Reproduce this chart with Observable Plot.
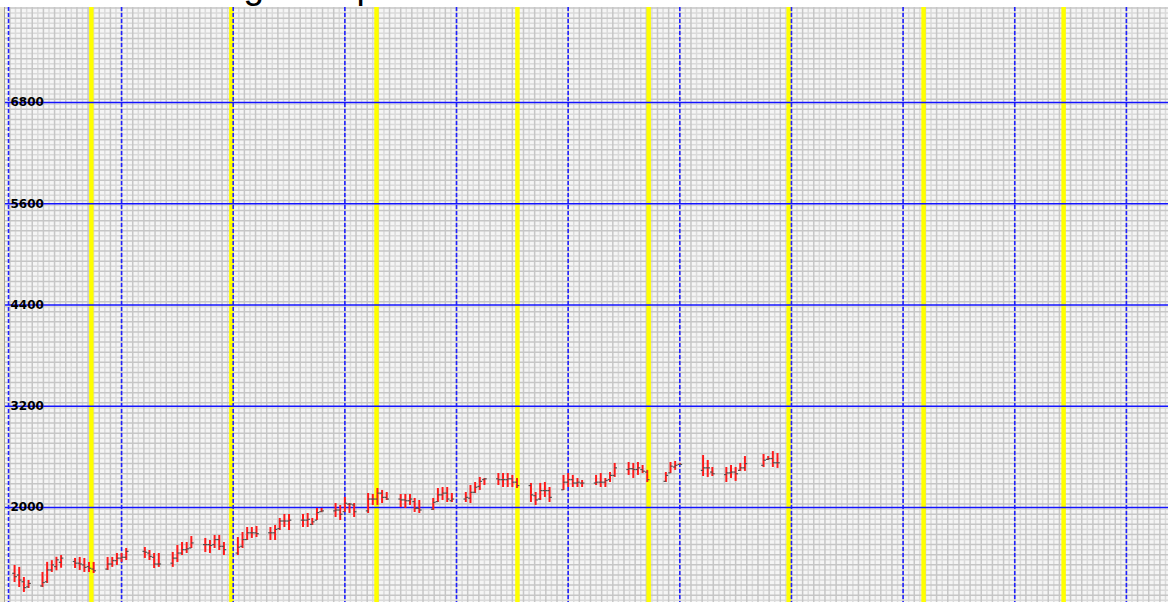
<!DOCTYPE html>
<html>
<head>
<meta charset="utf-8">
<script src="https://cdn.jsdelivr.net/npm/d3@7"></script>
<script src="https://cdn.jsdelivr.net/npm/@observablehq/plot@0.6"></script>
<style>
  html, body { margin: 0; padding: 0; background: #ffffff; }
  #title-strip { position: relative; height: 7px; width: 1168px; overflow: hidden; background: #ffffff; }
  #title { position: absolute; left: 81px; top: -33px; font-family: "Liberation Sans", Arial, sans-serif; font-size: 37px; line-height: 37px; color: #000; white-space: nowrap; }
  #frame { display: flex; width: 1168px; height: 595px; }
  #border1 { width: 4px; background: #ece9d8; }
  #border2 { width: 1px; background: #a8a496; }
  #chart svg { display: block; }
</style>
</head>
<body>
<div id="title-strip"><div id="title">Price Range Graph</div></div>
<div id="frame"><div id="border1"></div><div id="border2"></div><div id="chart"></div></div>
<script>
// ---- data (day index = calendar days from the first Monday) ----
const barDays = [1,2,3,4, 7,8,9,10,11, 14,15,16,17,18, 21,22,23,24,25, 29,30,31,32,
  35,36,37,38,39, 42,43,44,45,46, 49,50,51,52,53, 56,57,58,59,60, 63,64,65,66,67,
  70,71,72,73,74, 77,78,79,80,81, 84,85,86,87,88, 91,92,93,94,95, 98,99,100,101,102,
  105,106,107,108,109, 112,113,114,115,116, 119,120,121,122,123, 126,127,128,129,130,
  133,134,135,136,137, 141,142,143,144, 149,150,151, 154,155,156,157,158, 162,163,164,165];
const openVals = [1220,1200,1120,1060, 1070,1120,1260,1300,1350, 1360,1340,1320,1300,1270, 1270,1330,1370,1400,1410, 1480,1460,1410,1330,
  1340,1400,1460,1500,1520, 1560,1560,1560,1620,1540, 1460,1540,1620,1700,1700, 1700,1700,1750,1840,1840, 1850,1850,1800,1850,1950,
  1960,1970,1950,2040,2030, 1960,2100,2100,2170,2120, 2100,2090,2080,2070,1990, 1980,2070,2150,2170,2080, 2100,2110,2180,2250,2330,
  2340,2330,2330,2340,2300, 2260,2140,2100,2200,2200, 2210,2300,2330,2290,2290, 2290,2300,2300,2330,2380,
  2450,2460,2450,2450,2420, 2310,2410,2480,2510, 2440,2470,2420, 2390,2410,2420,2440,2470, 2500,2570,2580,2530];
const highVals = [1313,1290,1170,1135, 1230,1350,1370,1410,1430, 1396,1408,1396,1348,1348, 1408,1408,1455,1455,1514, 1526,1490,1455,1455,
  1467,1550,1585,1585,1656, 1633,1609,1668,1668,1585, 1644,1704,1763,1763,1775, 1763,1787,1870,1917,1917, 1917,1929,1870,1988,1988,
  2047,2024,2119,2047,2047, 2166,2154,2225,2202,2178, 2154,2154,2154,2107,2083, 2107,2225,2237,2237,2166, 2178,2261,2296,2356,2344,
  2403,2403,2403,2380,2344, 2285,2178,2285,2296,2237, 2380,2403,2380,2344,2320, 2380,2403,2344,2415,2522,
  2533,2522,2533,2498,2440, 2415,2533,2545,2522, 2616,2557,2474, 2474,2498,2474,2522,2604, 2628,2604,2663,2640];
const lowVals = [1111,1052,993,1040, 1052,1100,1230,1250,1280, 1277,1253,1230,1230,1218, 1253,1290,1313,1350,1372, 1396,1372,1277,1290,
  1290,1348,1431,1455,1514, 1467,1455,1514,1490,1431, 1431,1514,1609,1633,1644, 1609,1609,1727,1763,1727, 1763,1763,1787,1846,1940,
  1881,1846,1941,1929,1881, 1929,2024,2024,2047,2083, 2000,1988,2024,1941,1929, 1965,2059,2083,2059,2059, 2059,2047,2166,2202,2261,
  2261,2237,2237,2237,2225, 2059,2024,2083,2119,2059, 2202,2237,2237,2237,2237, 2261,2237,2237,2296,2356,
  2380,2344,2380,2403,2296, 2296,2403,2440,2498, 2367,2356,2367, 2296,2344,2309,2428,2428, 2474,2557,2474,2463];
const closeVals = [1180,1140,1050,1100, 1110,1260,1320,1380,1400, 1340,1330,1290,1280,1250, 1330,1370,1400,1410,1480, 1470,1420,1330,1330,
  1400,1460,1500,1510,1580, 1560,1550,1620,1540,1500, 1530,1620,1700,1700,1690, 1700,1740,1840,1840,1850, 1850,1860,1830,1940,1960,
  1970,1920,2050,2040,1950, 2100,2100,2170,2120,2100, 2090,2080,2100,1990,1970, 2060,2150,2170,2100,2100, 2120,2180,2240,2310,2340,
  2330,2330,2340,2300,2260, 2150,2090,2200,2200,2120, 2300,2330,2290,2300,2290, 2300,2300,2320,2380,2470,
  2460,2450,2470,2430,2330, 2380,2490,2500,2510, 2470,2470,2400, 2410,2420,2400,2470,2520, 2560,2580,2530,2530];

const yTickValues = [2000, 3200, 4400, 5600, 6800];
const yTickLabels = ["2000", "3200", "4400", "5600", "6800"];
const blueDays = [-0.3, 24, 48, 72, 96, 120, 144, 168, 192, 216, 240];
const yellowDays = [17.5, 47.6, 78.8, 109.1, 137.3, 167.4, 196.4, 226.5];

// ---- build table ----
const bars = barDays.map((d, i) => ({d, o: openVals[i], h: highVals[i], l: lowVals[i], c: closeVals[i]}));

const xDomain = [-0.95, 249.05];
const yDomain = [874, 7926];
const xStep = 1.2, yStep = 60;
const minorX = d3.range(Math.ceil(xDomain[0] / xStep), Math.floor(xDomain[1] / xStep) + 1).map(k => ({v: k * xStep, k}));
const minorY = d3.range(Math.ceil(yDomain[0] / yStep), Math.floor(yDomain[1] / yStep) + 1).map(k => ({v: k * yStep, k}));

const chart = Plot.plot({
  width: 1163,
  height: 595,
  marginTop: 0, marginRight: 0, marginBottom: 0, marginLeft: 0,
  x: {type: "linear", domain: xDomain, axis: null},
  y: {type: "linear", domain: yDomain, axis: null},
  style: {background: "#f5f5f5", overflow: "hidden"},
  marks: [
    Plot.ruleX(minorX.filter(d => d.k % 2 !== 0), {x: "v", stroke: "#dadada", strokeWidth: 1.5}),
    Plot.ruleY(minorY.filter(d => d.k % 2 !== 0), {y: "v", stroke: "#dadada", strokeWidth: 1.5}),
    Plot.ruleX(minorX.filter(d => d.k % 2 === 0), {x: "v", stroke: "#c6c6c6", strokeWidth: 1.5}),
    Plot.ruleY(minorY.filter(d => d.k % 2 === 0), {y: "v", stroke: "#c6c6c6", strokeWidth: 1.5}),
    Plot.ruleX(yellowDays, {x: d => d, stroke: "#ffff00", strokeWidth: 4.5}),
    Plot.ruleX(blueDays, {x: d => d, stroke: "#2020ff", strokeWidth: 1.6, strokeDasharray: "4,2"}),
    Plot.ruleY(yTickValues, {y: d => d, stroke: "#1414ff", strokeWidth: 1.4}),
    Plot.ruleX(bars, {x: "d", y1: "l", y2: "h", stroke: "#ff1a1a", strokeWidth: 2}),
    Plot.link(bars, {x1: d => d.d - 0.5, x2: "d", y1: "o", y2: "o", stroke: "#505050", strokeWidth: 1.2}),
    Plot.link(bars, {x1: "d", x2: d => d.d + 0.5, y1: "c", y2: "c", stroke: "#505050", strokeWidth: 1.2}),
    Plot.text(yTickValues, {
      y: d => d, text: (d, i) => yTickLabels[i], frameAnchor: "left", textAnchor: "start", dx: 5,
      fill: "#000", fontWeight: "bold", fontSize: 12, fontFamily: "DejaVu Sans, sans-serif"
    })
  ]
});
document.getElementById("chart").appendChild(chart);
</script>
</body>
</html>
